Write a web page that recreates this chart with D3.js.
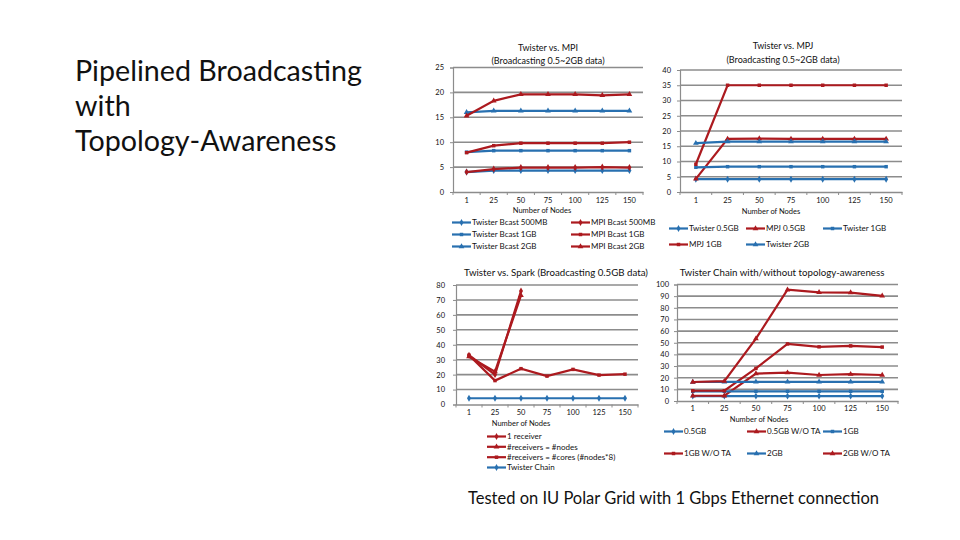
<!DOCTYPE html>
<html>
<head>
<meta charset="utf-8">
<script src="https://cdn.jsdelivr.net/npm/d3@7"></script>
<style>
  body { margin: 0; background: #fff; }
  svg { display: block; }
  text { font-family: Lato, "Open Sans", sans-serif; fill: #111; }
</style>
</head>
<body>
<script>
// Categories shared by all four charts
var nodes = ["1", "25", "50", "75", "100", "125", "150"];

// Twister vs. MPI (Broadcasting 0.5~2GB data)
var twisterBcast500MB = [4.0, 4.3, 4.3, 4.3, 4.3, 4.3, 4.3];
var twisterBcast1GB = [8.0, 8.3, 8.3, 8.3, 8.3, 8.3, 8.3];
var twisterBcast2GB = [16.0, 16.3, 16.3, 16.3, 16.3, 16.3, 16.3];
var mpiBcast500MB = [4.0, 4.6, 4.9, 4.9, 4.9, 5.0, 4.9];
var mpiBcast1GB = [7.9, 9.3, 9.8, 9.8, 9.8, 9.8, 10.0];
var mpiBcast2GB = [15.3, 18.3, 19.6, 19.6, 19.6, 19.4, 19.6];

// Twister vs. MPJ (Broadcasting 0.5~2GB data)
var twister05GB = [4.2, 4.2, 4.2, 4.2, 4.2, 4.2, 4.2];
var mpj05GB = [4.3, 17.4, 17.5, 17.4, 17.4, 17.4, 17.4];
var twister1GB = [8.1, 8.3, 8.3, 8.3, 8.3, 8.3, 8.3];
var mpj1GB = [9.1, 35.0, 35.0, 35.0, 35.0, 35.0, 35.0];
var twister2GB = [16.0, 16.5, 16.5, 16.5, 16.5, 16.5, 16.5];

// Twister vs. Spark (Broadcasting 0.5GB data)
var oneReceiver = [33, 20, 76];
var receiversNodes = [32, 22, 73];
var receiversCores = [33, 16, 24, 19, 23.5, 19.7, 20.3];
var twisterChain = [4.2, 4.2, 4.2, 4.2, 4.2, 4.2, 4.2];

// Twister Chain with/without topology-awareness
var chain05GB = [4.2, 4.2, 4.2, 4.2, 4.2, 4.2, 4.2];
var chain05GBnoTA = [4.5, 4.5, 23.5, 24.3, 22.3, 23, 22.3];
var chain1GB = [8.3, 8.3, 8.3, 8.3, 8.3, 8.3, 8.3];
var chain1GBnoTA = [8.8, 8.8, 28, 49, 46.5, 47.3, 46.3];
var chain2GB = [16.3, 16.5, 16.5, 16.5, 16.5, 16.5, 16.5];
var chain2GBnoTA = [16.3, 17, 53.5, 95.5, 93.3, 93, 90.3];

var blue = "#2870b0";
var red = "#ac1a1f";
var gridColor = "#8c8c8c";

var svg = d3.select("body").append("svg")
    .attr("width", 960)
    .attr("height", 540);

svg.append("rect").attr("width", 960).attr("height", 540).attr("fill", "#fff");

var symbols = {
    diamond: d3.symbol().type(d3.symbolDiamond).size(14),
    square: d3.symbol().type(d3.symbolSquare).size(12),
    triangle: d3.symbol().type(d3.symbolTriangle).size(14)
};

// draws one small Excel-like line chart
function drawChart(cfg) {
    var g = svg.append("g");
    var x = d3.scaleBand().domain(nodes).range([cfg.left, cfg.right]);
    var y = d3.scaleLinear().domain([0, cfg.yMax]).range([cfg.bottom, cfg.top]);
    var ticks = d3.range(0, cfg.yMax + cfg.step / 2, cfg.step);

    // horizontal gridlines
    g.selectAll(".grid")
        .data(ticks.slice(1))
        .enter().append("line")
        .attr("x1", cfg.left).attr("x2", cfg.right)
        .attr("y1", function(d) { return y(d); })
        .attr("y2", function(d) { return y(d); })
        .attr("stroke", gridColor)
        .attr("stroke-width", 1.6);

    // y axis
    var yAxis = g.append("g")
        .attr("transform", "translate(" + cfg.left + ",0)")
        .call(d3.axisLeft(y).tickValues(ticks).tickSize(3).tickPadding(cfg.yPad || 5));
    yAxis.select(".domain").attr("stroke", gridColor).attr("stroke-width", 1.2);
    yAxis.selectAll(".tick line").attr("stroke", gridColor);
    yAxis.selectAll("text").style("font-size", "7.5px").attr("fill", "#222");

    // x axis with ticks between the categories
    var xAxis = g.append("g")
        .attr("transform", "translate(0," + cfg.bottom + ")")
        .call(d3.axisBottom(x).tickSize(0).tickPadding(cfg.xPad || 6));
    xAxis.select(".domain").attr("stroke", gridColor).attr("stroke-width", 1.6);
    xAxis.selectAll("text").style("font-size", "7.5px").attr("fill", "#222");
    xAxis.selectAll(".sep")
        .data(d3.range(nodes.length + 1))
        .enter().append("line")
        .attr("x1", function(i) { return cfg.left + i * x.step(); })
        .attr("x2", function(i) { return cfg.left + i * x.step(); })
        .attr("y1", 0).attr("y2", 3)
        .attr("stroke", gridColor);

    // titles
    cfg.title.forEach(function(t, i) {
        g.append("text")
            .attr("x", cfg.titleX)
            .attr("y", cfg.titleY + i * 13.5)
            .attr("text-anchor", "middle")
            .style("font-size", cfg.titleSize + "px")
            .text(t);
    });

    g.append("text")
        .attr("x", cfg.axisLabelX)
        .attr("y", cfg.axisLabelY)
        .attr("text-anchor", "middle")
        .style("font-size", "7.5px")
        .text("Number of Nodes");

    // series
    var line = d3.line()
        .x(function(d, i) { return x(nodes[i]) + x.bandwidth() / 2; })
        .y(function(d) { return y(d); });

    cfg.series.forEach(function(s) {
        g.append("path")
            .datum(s.values)
            .attr("d", line)
            .attr("fill", "none")
            .attr("stroke", s.color)
            .attr("stroke-width", 2.2);
        g.selectAll(null)
            .data(s.values)
            .enter().append("path")
            .attr("d", symbols[s.symbol])
            .attr("transform", function(d, i) {
                return "translate(" + (x(nodes[i]) + x.bandwidth() / 2) + "," + y(d) + ")";
            })
            .attr("fill", s.color);
    });

    // legend
    cfg.legend.forEach(function(item) {
        var s = cfg.series[item.index];
        var lg = g.append("g").attr("transform", "translate(" + item.x + "," + item.y + ")");
        lg.append("line")
            .attr("x1", 0).attr("x2", 19)
            .attr("stroke", s.color)
            .attr("stroke-width", 2.2);
        lg.append("path")
            .attr("d", symbols[s.symbol])
            .attr("transform", "translate(9.5,0)")
            .attr("fill", s.color);
        lg.append("text")
            .attr("x", 20)
            .attr("y", 2.8)
            .style("font-size", "8px")
            .text(s.name);
    });
}

drawChart({
    left: 453, right: 643, top: 67.5, bottom: 192, yMax: 25, step: 5, yPad: 6,
    title: ["Twister vs. MPI", "(Broadcasting 0.5~2GB data)"], titleX: 548, titleY: 50.5, titleSize: 9,
    axisLabelX: 542, axisLabelY: 213,
    series: [
        { name: "Twister Bcast 500MB", values: twisterBcast500MB, color: blue, symbol: "diamond" },
        { name: "Twister Bcast 1GB", values: twisterBcast1GB, color: blue, symbol: "square" },
        { name: "Twister Bcast 2GB", values: twisterBcast2GB, color: blue, symbol: "triangle" },
        { name: "MPI Bcast 500MB", values: mpiBcast500MB, color: red, symbol: "diamond" },
        { name: "MPI Bcast 1GB", values: mpiBcast1GB, color: red, symbol: "square" },
        { name: "MPI Bcast 2GB", values: mpiBcast2GB, color: red, symbol: "triangle" }
    ],
    legend: [
        { index: 0, x: 452, y: 222.5 }, { index: 3, x: 571, y: 222.5 },
        { index: 1, x: 452, y: 234.5 }, { index: 4, x: 571, y: 234.5 },
        { index: 2, x: 452, y: 246.5 }, { index: 5, x: 571, y: 246.5 }
    ]
});

drawChart({
    left: 680, right: 902, top: 70, bottom: 192, yMax: 40, step: 5, yPad: 6,
    title: ["Twister vs. MPJ", "(Broadcasting 0.5~2GB data)"], titleX: 783, titleY: 49, titleSize: 9,
    axisLabelX: 771, axisLabelY: 214,
    series: [
        { name: "Twister 0.5GB", values: twister05GB, color: blue, symbol: "diamond" },
        { name: "MPJ 0.5GB", values: mpj05GB, color: red, symbol: "triangle" },
        { name: "Twister 1GB", values: twister1GB, color: blue, symbol: "square" },
        { name: "MPJ 1GB", values: mpj1GB, color: red, symbol: "square" },
        { name: "Twister 2GB", values: twister2GB, color: blue, symbol: "triangle" }
    ],
    legend: [
        { index: 0, x: 669, y: 228.5 }, { index: 1, x: 746, y: 228.5 }, { index: 2, x: 823, y: 228.5 },
        { index: 3, x: 669, y: 244.5 }, { index: 4, x: 746, y: 244.5 }
    ]
});

drawChart({
    left: 456, right: 638, top: 285, bottom: 404.5, yMax: 80, step: 10, yPad: 8, xPad: 5,
    title: ["Twister vs. Spark (Broadcasting 0.5GB data)"], titleX: 556, titleY: 275.5, titleSize: 9.7,
    axisLabelX: 521, axisLabelY: 425.5,
    series: [
        { name: "1 receiver", values: oneReceiver, color: red, symbol: "diamond" },
        { name: "#receivers = #nodes", values: receiversNodes, color: red, symbol: "triangle" },
        { name: "#receivers = #cores (#nodes*8)", values: receiversCores, color: red, symbol: "square" },
        { name: "Twister Chain", values: twisterChain, color: blue, symbol: "diamond" }
    ],
    legend: [
        { index: 0, x: 487, y: 436.5 }, { index: 1, x: 487, y: 446.8 },
        { index: 2, x: 487, y: 457.2 }, { index: 3, x: 487, y: 467.5 }
    ]
});

drawChart({
    left: 677, right: 898, top: 284.5, bottom: 401, yMax: 100, step: 10, yPad: 5, xPad: 5,
    title: ["Twister Chain with/without topology-awareness"], titleX: 782, titleY: 275.5, titleSize: 9.7,
    axisLabelX: 759, axisLabelY: 421.5,
    series: [
        { name: "0.5GB", values: chain05GB, color: blue, symbol: "diamond" },
        { name: "0.5GB W/O TA", values: chain05GBnoTA, color: red, symbol: "triangle" },
        { name: "1GB", values: chain1GB, color: blue, symbol: "square" },
        { name: "1GB W/O TA", values: chain1GBnoTA, color: red, symbol: "square" },
        { name: "2GB", values: chain2GB, color: blue, symbol: "triangle" },
        { name: "2GB W/O TA", values: chain2GBnoTA, color: red, symbol: "triangle" }
    ],
    legend: [
        { index: 0, x: 664, y: 431.5 }, { index: 1, x: 747, y: 431.5 }, { index: 2, x: 823, y: 431.5 },
        { index: 3, x: 664, y: 453.5 }, { index: 4, x: 747, y: 453.5 }, { index: 5, x: 823, y: 453.5 }
    ]
});

// slide title, sized so that the first line spans the same width as the reference
var titleLines = ["Pipelined Broadcasting", "with", "Topology-Awareness"];
var titleG = svg.append("g");
var titleTexts = titleG.selectAll("text")
    .data(titleLines)
    .enter().append("text")
    .attr("x", 75)
    .attr("y", function(d, i) { return 81 + i * 35; })
    .style("font-size", "28px")
    .text(function(d) { return d; });
var firstWidth = titleTexts.node().getComputedTextLength();
titleTexts.style("font-size", (28 * 287 / firstWidth) + "px");

// footnote
var foot = svg.append("text")
    .attr("x", 468)
    .attr("y", 504)
    .style("font-size", "15px")
    .text("Tested on IU Polar Grid with 1 Gbps Ethernet connection");
var footWidth = foot.node().getComputedTextLength();
foot.style("font-size", (15 * 411 / footWidth) + "px");
</script>
</body>
</html>
